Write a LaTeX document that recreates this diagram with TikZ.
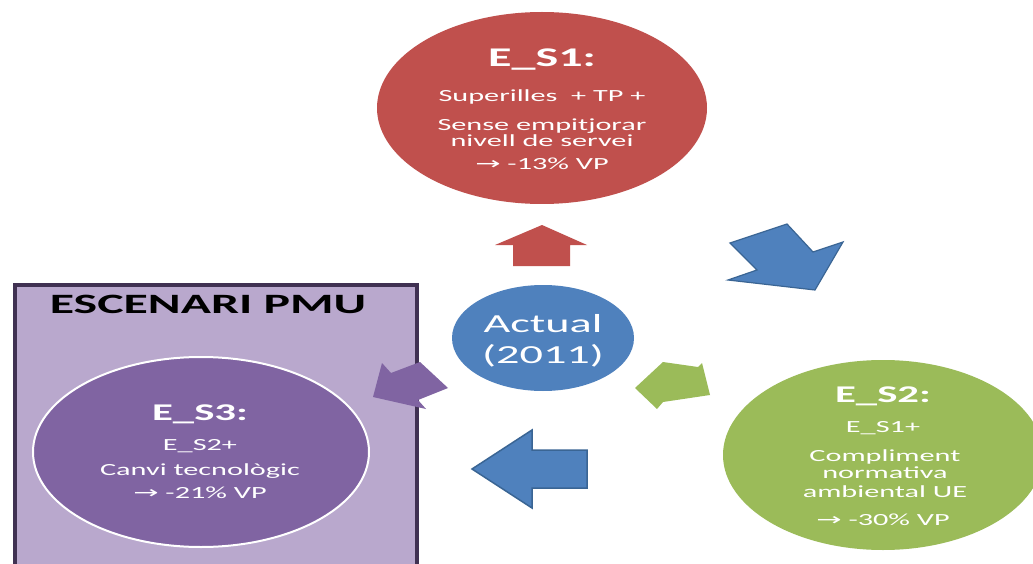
\documentclass[tikz,border=0pt]{standalone}
\usepackage{fontspec}
\setmainfont{Carlito}
\newfontfamily\arrfont{DejaVu Sans}
\usetikzlibrary{shapes.geometric}
\definecolor{cred}{HTML}{C0504D}
\definecolor{cblue}{HTML}{4F81BD}
\definecolor{cblueline}{HTML}{3A6594}
\definecolor{cgreen}{HTML}{9BBB59}
\definecolor{cpurple}{HTML}{8064A2}
\definecolor{cpurplelight}{HTML}{B9A8CD}
\definecolor{cpurpledark}{HTML}{403152}
\newcommand{\sx}[1]{\scalebox{1.78}[1]{#1}}
\newcommand{\arw}{{\arrfont →}}
\begin{document}
\begin{tikzpicture}[x=1pt,y=-1pt,
  txt/.style={text=white, anchor=base, inner sep=0pt, font=\fontsize{17}{20}\selectfont},
  ttl/.style={text=white, anchor=base, inner sep=0pt, font=\fontsize{27}{30}\selectfont\bfseries},
  ttlb/.style={text=white, anchor=base, inner sep=0pt, font=\fontsize{24}{28}\selectfont\bfseries},
  act/.style={text=white, anchor=base, inner sep=0pt, font=\fontsize{26}{30}\selectfont},
  blob/.style={ellipse, inner sep=0pt, draw=none}
]
\useasboundingbox (0,0) rectangle (1033,564);
\fill[white] (0,0) rectangle (1033,564);

% ESCENARI PMU box
\node (box) [draw=cpurpledark, line width=4pt, fill=cpurplelight, rectangle, anchor=north west,
  minimum width=402, minimum height=320, inner sep=0pt] at (13,283) {};
\node (boxt) [anchor=base, inner sep=0pt, font=\fontsize{28}{30}\selectfont\bfseries] at (208,313) {\sx{ESCENARI PMU}};

% ellipses
\node (s1) [blob, fill=cred, minimum width=330, minimum height=192] at (542,108) {};
\node (act) [blob, fill=cblue, minimum width=182, minimum height=106] at (543,338) {};
\node (s2) [blob, fill=cgreen, minimum width=320, minimum height=190] at (883,455) {};
\node (s3) [blob, fill=cpurple, draw=white, line width=2pt, minimum width=336, minimum height=190] at (201,452) {};

% block arrows
\fill[cred] (495,245) -- (542,225) -- (587,245) -- (570,245) -- (570,266) -- (513,266) -- (513,245) -- cycle;
\filldraw[fill=cblue, draw=cblueline, line width=1.2pt, line join=miter]
  (730,243) -- (787,224) -- (813,252) -- (843,242) -- (815,290) -- (728,280) -- (757,270) -- cycle;
\fill[cgreen] (635,388) -- (663,362) -- (698,367) -- (702,363) -- (710,395) -- (663,402) -- (657,409) -- cycle;
\filldraw[fill=cblue, draw=cblueline, line width=1.5pt]
  (472,469) -- (532,430) -- (532,450) -- (587,450) -- (587,488) -- (532,488) -- (532,508) -- cycle;
\fill[cpurple] (373,397) -- (382,363) -- (391,373) -- (420,362) -- (448,388) -- (418,400) -- (426,409) -- cycle;

% E_S1 text
\node (s1a) [ttl] at (542,67) {\sx{E\_S1:}};
\node (s1b) [txt] at (542,102) {\sx{Superilles\ \ + TP +}};
\node (s1c) [txt] at (542,131) {\sx{Sense empitjorar}};
\node (s1d) [txt] at (542,147) {\sx{nivell de servei}};
\node (s1e) [txt] at (542,170) {\sx{\arw\ -13\% VP}};

% Actual text
\node (acta) [act] at (543,332) {\sx{Actual}};
\node (actb) [act] at (543,363) {\sx{(2011)}};

% E_S2 text
\node (s2a) [ttlb] at (883,402) {\sx{E\_S2:}};
\node (s2b) [txt] at (883,432) {\sx{E\_S1+}};
\node (s2c) [txt] at (885,461) {\sx{Compliment}};
\node (s2d) [txt] at (885,478) {\sx{normativa}};
\node (s2e) [txt] at (885,497) {\sx{ambiental UE}};
\node (s2f) [txt] at (883,525) {\sx{\arw\ -30\% VP}};

% E_S3 text
\node (s3a) [ttlb] at (200,420) {\sx{E\_S3:}};
\node (s3b) [txt] at (200,450) {\sx{E\_S2+}};
\node (s3c) [txt] at (200,475) {\sx{Canvi tecnològic}};
\node (s3d) [txt] at (200,498) {\sx{\arw\ -21\% VP}};
\end{tikzpicture}
\end{document}
